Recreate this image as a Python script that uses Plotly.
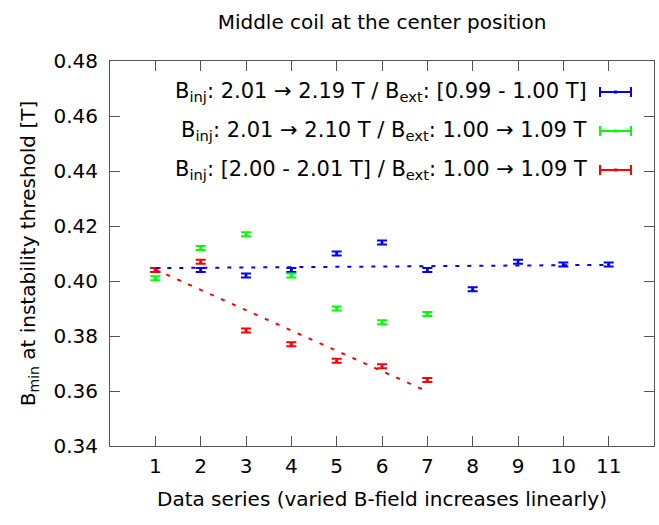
import numpy as np
import plotly.graph_objects as go

# Data
blue_x = [1, 2, 3, 4, 5, 6, 7, 8, 9, 10, 11]
blue_y = [0.404, 0.404, 0.402, 0.404, 0.410, 0.414, 0.404, 0.397, 0.407, 0.406, 0.406]
green_x = [1, 2, 3, 4, 5, 6, 7]
green_y = [0.401, 0.412, 0.417, 0.402, 0.390, 0.385, 0.388]
red_x = [1, 2, 3, 4, 5, 6, 7]
red_y = [0.404, 0.407, 0.382, 0.377, 0.371, 0.369, 0.364]
err = 0.0007

labels = [
    "B<sub>inj</sub>: 2.01 → 2.19 T / B<sub>ext</sub>: [0.99 - 1.00 T]",
    "B<sub>inj</sub>: 2.01 → 2.10 T / B<sub>ext</sub>: 1.00 → 1.09 T",
    "B<sub>inj</sub>: [2.00 - 2.01 T] / B<sub>ext</sub>: 1.00 → 1.09 T",
]
colors = ["#0000ff", "#00ff00", "#ff0000"]
xticks = list(range(1, 12))
yticks = [0.34, 0.36, 0.38, 0.40, 0.42, 0.44, 0.46, 0.48]

FONT = "DejaVu Sans"
fig = go.Figure()

series = [(blue_x, blue_y), (green_x, green_y), (red_x, red_y)]
for (xs, ys), c in zip(series, colors):
    fig.add_trace(go.Scatter(
        x=xs, y=ys, mode="markers",
        marker=dict(color=c, size=3),
        error_y=dict(type="constant", value=err, color=c, thickness=2, width=5),
        showlegend=False))

# Linear fits
for (xs, ys), c in [((blue_x, blue_y), colors[0]), ((red_x, red_y), colors[2])]:
    p = np.polyfit(xs, ys, 1)
    fx = [xs[0], xs[-1]]
    fy = [float(np.polyval(p, v)) for v in fx]
    fig.add_trace(go.Scatter(x=fx, y=fy, mode="lines",
                             line=dict(color=c, width=2, dash="4px,8px"),
                             showlegend=False))

# Custom legend (text right-aligned, sample on the right)
L, R, T, B = 110, 5, 61, 79
W, H = 659, 525
pw, ph = W - L - R, H - T - B
rows_y = [92, 131, 170]
for lab, c, yy in zip(labels, colors, rows_y):
    yp = 1 - (yy - T) / ph
    fig.add_annotation(xref="paper", yref="paper", x=(589 - L) / pw, y=yp,
                       text=lab, showarrow=False, xanchor="right", yanchor="middle",
                       font=dict(family=FONT, size=21, color="black"))
    x0 = (600 - L) / pw
    x1 = (631 - L) / pw
    fig.add_shape(type="line", xref="paper", yref="paper", x0=x0, x1=x1, y0=yp, y1=yp,
                  line=dict(color=c, width=2))
    for xe in (x0, x1):
        fig.add_shape(type="line", xref="paper", yref="paper", x0=xe, x1=xe,
                      y0=yp - 5 / ph, y1=yp + 5 / ph, line=dict(color=c, width=2))
    xm = (x0 + x1) / 2
    fig.add_shape(type="rect", xref="paper", yref="paper", x0=xm - 1.5 / pw, x1=xm + 1.5 / pw,
                  y0=yp - 1.5 / ph, y1=yp + 1.5 / ph, line=dict(width=0), fillcolor=c)

axis_common = dict(showline=True, mirror="ticks", linecolor="#555555", linewidth=1,
                   ticks="inside", ticklen=10, tickcolor="#555555", showgrid=False,
                   zeroline=False, tickfont=dict(family=FONT, size=20, color="black"))

fig.update_layout(
    width=W, height=H,
    margin=dict(l=L, r=R, t=T, b=B),
    plot_bgcolor="white", paper_bgcolor="white",
    title=dict(text="Middle coil at the center position", x=(L + pw / 2) / W, xanchor="center",
               y=1 - 22 / H, yanchor="middle",
               font=dict(family=FONT, size=20, color="black")),
    xaxis=dict(range=[0, 12], tickvals=xticks, ticktext=[str(v) for v in xticks],
               ticklabelstandoff=2,
               title=dict(text="Data series (varied B-field increases linearly)",
                          font=dict(family=FONT, size=20, color="black"), standoff=14),
               **axis_common),
    yaxis=dict(range=[0.34, 0.48], tickvals=yticks, ticktext=[f"{v:.2f}" for v in yticks],
               ticklabelstandoff=7,
               title=dict(text="B<sub>min</sub> at instability threshold [T]",
                          font=dict(family=FONT, size=20, color="black"), standoff=12),
               **axis_common),
)

fig.write_html("out.html")
